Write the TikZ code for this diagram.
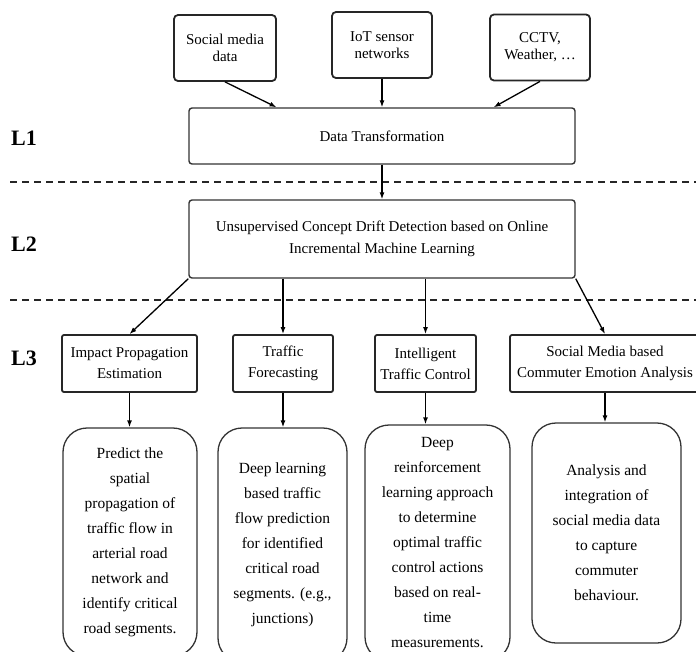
\documentclass[tikz,border=0pt]{standalone}
\usepackage{fontspec}
\setmainfont{Liberation Serif}
\usetikzlibrary{arrows.meta}
\usetikzlibrary{calc}

\begin{document}
\begin{tikzpicture}[x=1pt, y=-1pt, auto,
        source_style/.style={rectangle, rounded corners=4pt, draw=black!85, line width=1.8pt, align=center, inner sep=2pt, minimum height=66pt, font=\fontsize{15}{17}\selectfont},
        wide_style/.style={rectangle, rounded corners=3pt, draw=black!80, line width=1.4pt, align=center, minimum width=386pt, font=\fontsize{15}{22}\selectfont},
        task_style/.style={rectangle, rounded corners=2pt, draw=black!85, line width=1.8pt, align=center, inner sep=2pt, minimum height=57pt, font=\fontsize{15}{21}\selectfont},
        detail_style/.style={rectangle, rounded corners=24pt, draw=black!80, line width=1.3pt, align=center, inner sep=2pt, font=\fontsize{15.5}{25}\selectfont},
        level_style/.style={font=\fontsize{22}{24}\selectfont\bfseries},
        edge_style/.style={draw=black, line width=1.3pt, -{Latex[length=7pt, width=5pt]}},
        sep_style/.style={draw=black!85, line width=1.8pt, dash pattern=on 7pt off 5pt}]

        \useasboundingbox (0,0) rectangle (696,651);

        \node [source_style, minimum width=102pt](social) at (225,48) {Social media\\data};

        \node [source_style, minimum width=100pt](iot) at (382,45) {IoT sensor\\networks};

        \node [source_style, minimum width=100pt](cctv) at (540,47.5) {CCTV,\\Weather, \dots};

        \node [wide_style, minimum height=56pt](transform) at (382,136) {Data Transformation};

        \node [wide_style, minimum height=78pt](drift) at (382,239) {Unsupervised Concept Drift Detection based on Online\\Incremental Machine Learning};

        \node [task_style, minimum width=135pt](impact) at (129.5,363.5) {Impact Propagation\\Estimation};

        \node [task_style, minimum width=100pt](forecast) at (283,363.5) {Traffic\\Forecasting};

        \node [task_style, minimum width=101pt](control) at (425.5,363.5) {Intelligent\\Traffic Control};

        \node [task_style, minimum width=190pt](emotion) at (605,363.5) {Social Media based\\Commuter Emotion Analysis};

        \node [detail_style, minimum width=134pt, minimum height=228pt](predict) at (130,542) {Predict the\\spatial\\propagation of\\traffic flow in\\arterial road\\network and\\identify critical\\road segments.};

        \node [detail_style, minimum width=129pt, minimum height=234pt](deep) at (282.5,545) {Deep learning\\based traffic\\flow prediction\\for identified\\critical road\\segments. (e.g.,\\junctions)};

        \node [detail_style, minimum width=145pt, minimum height=236pt](reinforce) at (437.5,543) {Deep\\reinforcement\\learning approach\\to determine\\optimal traffic\\control actions\\based on real-\\time\\measurements.};

        \node [detail_style, minimum width=149pt, minimum height=220pt](analysis) at (606.5,533) {Analysis and\\integration of\\social media data\\to capture\\commuter\\behaviour.};

        \node [level_style](lab1) at (24,138) {L1};

        \node [level_style](lab2) at (24,244) {L2};

        \node [level_style](lab3) at (24,358) {L3};

        % layer separators
        \draw [sep_style] (10,182) -- (696,182);
        \draw [sep_style] (10,300) -- (696,300);

        \draw [edge_style] (social.south) -- ($(transform.north west)!0.228!(transform.north east)$);

        \draw [edge_style] (iot.south) -- (transform.north);

        \draw [edge_style] (cctv.south) -- ($(transform.north west)!0.788!(transform.north east)$);

        \draw [edge_style] (transform.south) -- (drift.north);

        \draw [edge_style] (drift.south west) -- (impact.north);

        \draw [edge_style] (drift.south -| forecast.north) -- (forecast.north);

        \draw [edge_style] (drift.south -| control.north) -- (control.north);

        \draw [edge_style] (drift.south east) -- (emotion.north);

        \draw [edge_style] (impact.south) -- (impact.south |- predict.north);

        \draw [edge_style] (forecast.south) -- (forecast.south |- deep.north);

        \draw [edge_style] (control.south) -- (control.south |- reinforce.north);

        \draw [edge_style] (emotion.south) -- (emotion.south |- analysis.north);

        \end{tikzpicture}
\end{document}
